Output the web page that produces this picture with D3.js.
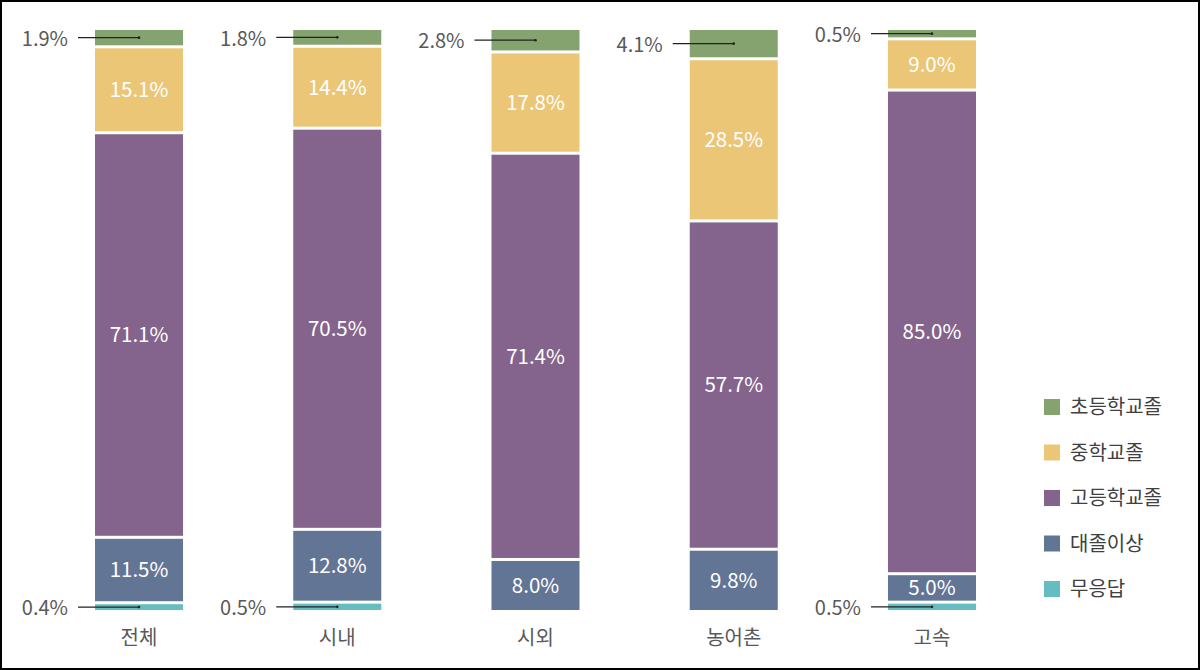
<!DOCTYPE html>
<html><head><meta charset="utf-8">
<script src="https://cdn.jsdelivr.net/npm/d3@7"></script>
<style>body{margin:0;background:#fff;}svg{display:block;}</style>
</head><body><div id="chart"></div>
<script>
const categories = ["전체", "시내", "시외", "농어촌", "고속"];
const seriesNames = ["초등학교졸", "중학교졸", "고등학교졸", "대졸이상", "무응답"];
const elementary = [1.9, 1.8, 2.8, 4.1, 0.5];
const middle = [15.1, 14.4, 17.8, 28.5, 9.0];
const high = [71.1, 70.5, 71.4, 57.7, 85.0];
const college = [11.5, 12.8, 8.0, 9.8, 5.0];
const noAnswer = [0.4, 0.5, 0, 0, 0.5];
const colors = ["#84A36F", "#EBC677", "#84648C", "#637594", "#66BDC1"];

const W = 1200, H = 670;
const FONT = "'Noto Sans CJK KR','Noto Sans',sans-serif";
const svg = d3.select("#chart").append("svg").attr("width", W).attr("height", H);
svg.append("rect").attr("x", 1).attr("y", 1).attr("width", W - 2).attr("height", H - 2)
  .attr("fill", "#fff").attr("stroke", "#000").attr("stroke-width", 2);

const seriesVals = [elementary, middle, high, college, noAnswer];
const rows = categories.map((c, i) => {
  const o = {cat: c};
  seriesNames.forEach((s, j) => o[s] = seriesVals[j][i]);
  return o;
});
const keys = seriesNames.slice().reverse();
const stack = d3.stack().keys(keys)(rows);

const x = d3.scaleBand().domain(categories).range([39.9, 1031.1]).paddingInner(0.556).paddingOuter(0.278);
const y = d3.scaleLinear().domain([0, 100]).range([605, 36]);
const barBottom = 610, barTop = 30;
const color = d3.scaleOrdinal().domain(seriesNames).range(colors);

const gap = 1.5;
categories.forEach((cat, i) => {
  const segs = stack.map(layer => ({key: layer.key, d0: layer[i][0], d1: layer[i][1]}))
    .filter(s => s.d1 - s.d0 > 0);
  const x0 = x(cat), bw = x.bandwidth();
  segs.forEach((s, k) => {
    const v = s.d1 - s.d0;
    const yBot = k === 0 ? barBottom : y(s.d0) - gap;
    const yTop = k === segs.length - 1 ? barTop : y(s.d1) + gap;
    svg.append("rect").attr("x", x0).attr("y", yTop).attr("width", bw)
      .attr("height", Math.max(1, yBot - yTop)).attr("fill", color(s.key));
    const cy = (yTop + yBot) / 2;
    const label = v.toFixed(1) + "%";
    if (s.key === "초등학교졸" || s.key === "무응답") {
      const cx = x0 + bw / 2;
      svg.append("line").attr("x1", x0 - 17).attr("x2", cx).attr("y1", cy).attr("y2", cy)
        .attr("stroke", "#222").attr("stroke-width", 1.2);
      svg.append("circle").attr("cx", cx).attr("cy", cy).attr("r", 1.3).attr("fill", "#222");
      svg.append("text").attr("x", x0 - 27).attr("y", cy + 1).attr("dy", "0.36em")
        .attr("text-anchor", "end").attr("font-family", FONT).attr("font-size", 20)
        .attr("fill", "#595959").text(label);
    } else {
      svg.append("text").attr("x", x0 + bw / 2).attr("y", cy).attr("dy", "0.36em")
        .attr("text-anchor", "middle").attr("font-family", FONT).attr("font-size", 20.5)
        .attr("fill", "#fff").text(label);
    }
  });
});

const xAxis = svg.append("g").attr("transform", "translate(0,610)")
  .call(d3.axisBottom(x).tickSize(0).tickPadding(21));
xAxis.select(".domain").remove();
xAxis.selectAll("text").attr("font-family", FONT).attr("font-size", 20).attr("fill", "#595959");

const legend = svg.append("g");
seriesNames.forEach((s, i) => {
  const ly = 407 + i * 45.5;
  legend.append("rect").attr("x", 1044).attr("y", ly - 8).attr("width", 16).attr("height", 16).attr("fill", colors[i]);
  legend.append("text").attr("x", 1070).attr("y", ly).attr("dy", "0.36em")
    .attr("font-family", FONT).attr("font-size", 20).attr("fill", "#404040").text(s);
});
</script></body></html>
